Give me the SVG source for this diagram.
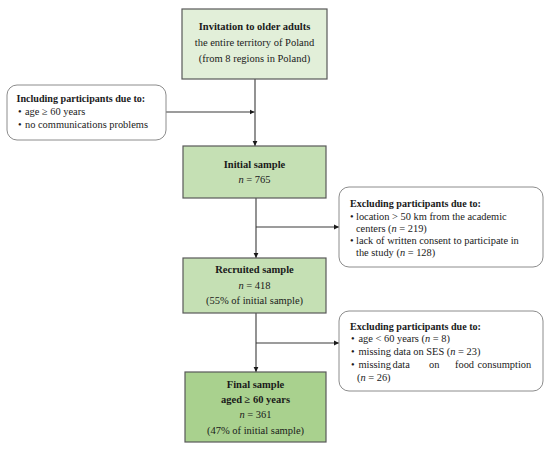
<svg xmlns="http://www.w3.org/2000/svg" width="550" height="452" viewBox="0 0 550 452">
<style>
.box{stroke:#595959;stroke-width:1.2}
.side{fill:#ffffff;stroke:#8c8c8c;stroke-width:1}
text{font-family:"Liberation Serif","DejaVu Serif",serif;fill:#1a1a1a}
.c{text-anchor:middle;font-size:10.5px}
.s{font-size:10.4px}
.sb{font-size:10.1px;font-weight:bold}
.b{font-weight:bold}
.i{font-style:italic}
.con{stroke:#3a3a3a;stroke-width:1.1;fill:none}
</style>
<defs>
<marker id="ah" markerWidth="6" markerHeight="6" refX="5" refY="3" orient="auto" markerUnits="userSpaceOnUse">
<path d="M0,0.6 L5,3 L0,5.4 Z" fill="#1a1a1a"/>
</marker>
</defs>
<rect width="550" height="452" fill="#ffffff"/>
<g id="connectors">
<line class="con" x1="255" y1="79" x2="255" y2="146" marker-end="url(#ah)"/>
<line class="con" x1="166" y1="112" x2="254.5" y2="112" marker-end="url(#ah)"/>
<line class="con" x1="256" y1="198" x2="256" y2="258" marker-end="url(#ah)"/>
<line class="con" x1="256" y1="227" x2="339" y2="227" marker-end="url(#ah)"/>
<line class="con" x1="256" y1="313" x2="256" y2="372" marker-end="url(#ah)"/>
<line class="con" x1="256" y1="343" x2="339" y2="343" marker-end="url(#ah)"/>
</g>
<g id="invitation">
<rect class="box" x="182" y="9" width="145" height="70" fill="#e2efd9"/>
<text class="c b" x="254.5" y="30">Invitation to older adults</text>
<text class="c" x="254.5" y="46" font-size="11px">the entire territory of Poland</text>
<text class="c" x="254.5" y="62" font-size="11px">(from 8 regions in Poland)</text>
</g>
<g id="including">
<rect class="side" x="7" y="85" width="159" height="55" rx="10"/>
<text class="sb" x="16.5" y="102">Including participants due to:</text>
<text class="s" x="18" y="115">•<tspan x="25">age ≥ 60 years</tspan></text>
<text class="s" x="18" y="128">•<tspan x="25">no communications problems</tspan></text>
</g>
<g id="initial">
<rect class="box" x="183" y="146" width="143" height="52" fill="#c5e0b4"/>
<text class="c b" x="254.5" y="168">Initial sample</text>
<text class="c" x="254.5" y="183"><tspan class="i">n</tspan> = 765</text>
</g>
<g id="exclude1">
<rect class="side" x="339" y="187" width="204" height="80" rx="10"/>
<text class="sb" x="350" y="207">Excluding participants due to:</text>
<text class="s" x="350" y="219.5">•<tspan x="356">location &gt; 50 km from the academic</tspan></text>
<text class="s" x="356" y="231.5">centers (<tspan class="i">n</tspan> = 219)</text>
<text class="s" x="350" y="243.5">•<tspan x="356">lack of written consent to participate in</tspan></text>
<text class="s" x="356" y="255.5">the study (<tspan class="i">n</tspan> = 128)</text>
</g>
<g id="recruited">
<rect class="box" x="183" y="258" width="143" height="55" fill="#c5e0b4"/>
<text class="c b" x="254.5" y="273">Recruited sample</text>
<text class="c" x="254.5" y="288.5"><tspan class="i">n</tspan> = 418</text>
<text class="c" x="254.5" y="304">(55% of initial sample)</text>
</g>
<g id="exclude2">
<rect class="side" x="339" y="311" width="204" height="80" rx="10"/>
<text class="sb" x="350" y="329.5">Excluding participants due to:</text>
<text class="s" x="351" y="342">•<tspan x="358.5">age &lt; 60 years (<tspan class="i">n</tspan> = 8)</tspan></text>
<text class="s" x="351" y="355">•<tspan x="358.5">missing data on SES (<tspan class="i">n</tspan> = 23)</tspan></text>
<text class="s" x="351" y="368">•<tspan x="358.5">missing</tspan><tspan x="392.5">data</tspan><tspan x="429">on</tspan><tspan x="455">food</tspan><tspan x="477.5">consumption</tspan></text>
<text class="s" x="357" y="381">(<tspan class="i">n</tspan> = 26)</text>
</g>
<g id="final">
<rect class="box" x="185" y="372" width="141" height="70" fill="#a9d18e"/>
<text class="c b" x="255.5" y="387.5">Final sample</text>
<text class="c b" x="255.5" y="403">aged ≥ 60 years</text>
<text class="c" x="255.5" y="418"><tspan class="i">n</tspan> = 361</text>
<text class="c" x="255.5" y="434">(47% of initial sample)</text>
</g>
</svg>
